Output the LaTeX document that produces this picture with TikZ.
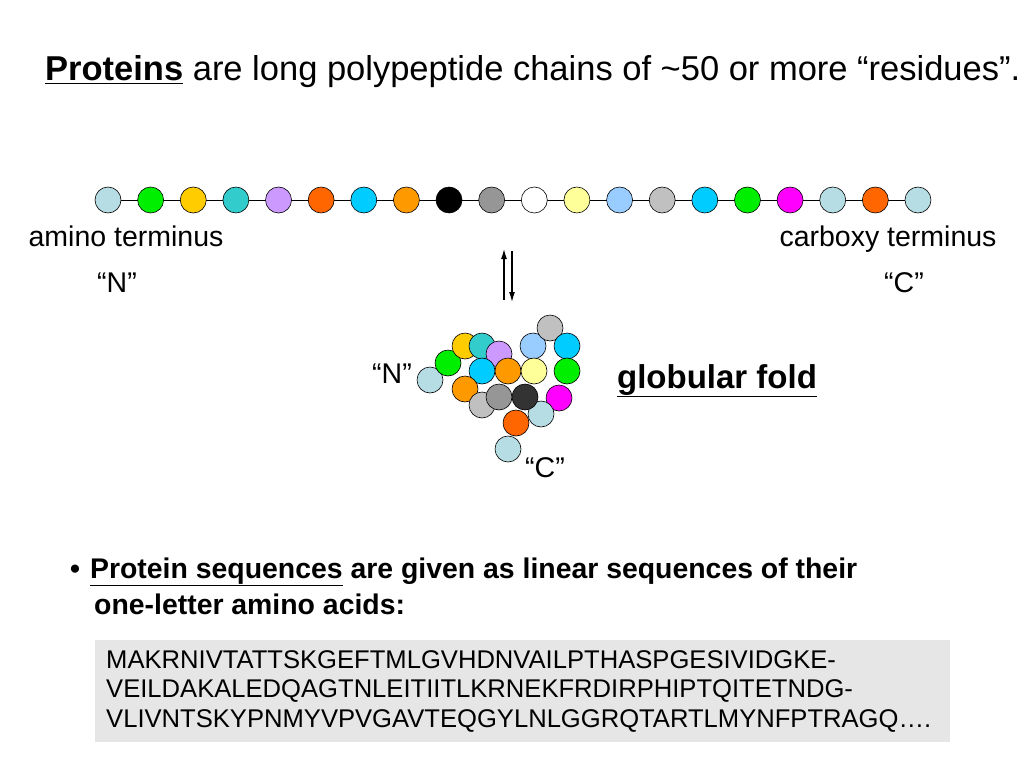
\documentclass[tikz,border=0pt]{standalone}
\usepackage{fontspec}
\usetikzlibrary{arrows.meta}
\setmainfont{Liberation Sans}
\begin{document}
\begin{tikzpicture}[x=1pt,y=-1pt,
 bead/.style={circle,draw=black,line width=0.6pt,minimum size=26pt,inner sep=0pt},
 txt/.style={inner sep=0pt,font=\fontsize{28.5}{32}\selectfont},
 arr/.style={-{Latex[length=10pt,width=6pt]},line width=1.2pt}]
\useasboundingbox (0,0) rectangle (1024,768);
\definecolor{lb}{HTML}{B7DDE4}\definecolor{gr}{HTML}{00EE00}\definecolor{go}{HTML}{FFCC00}
\definecolor{te}{HTML}{33CCCC}\definecolor{la}{HTML}{CC99FF}\definecolor{orr}{HTML}{FF6600}
\definecolor{sk}{HTML}{00CCFF}\definecolor{or}{HTML}{FF9900}\definecolor{gy}{HTML}{969696}
\definecolor{ly}{HTML}{FFFF99}\definecolor{pb}{HTML}{99CCFF}\definecolor{lg}{HTML}{C0C0C0}
\definecolor{ma}{HTML}{FF00FF}\definecolor{dk}{HTML}{333333}\definecolor{bx}{HTML}{E6E6E6}
\node[anchor=base west,inner sep=0pt,font=\fontsize{34.5}{40}\selectfont] (title) at (45,81)
 {\textbf{\underline{Proteins}} are long polypeptide chains of \textasciitilde50 or more “residues”.};
\draw (108,200) -- (918,200);
\foreach \c [count=\i] in {lb,gr,go,te,la,orr,sk,or,black,gy,white,ly,pb,lg,sk,gr,ma,lb,orr,lb}
 \node[bead,fill=\c] (c\i) at ({108+(\i-1)*42.63},200) {};
\node[txt,anchor=base] (am) at (126,246) {amino terminus};
\node[txt,anchor=base] (cb) at (888,246) {carboxy terminus};
\node[txt,anchor=base] (n1) at (117,292) {“N”};
\node[txt,anchor=base] (c1) at (904,292) {“C”};
\coordinate (a1) at (504,300); \coordinate (a2) at (504,249);
\coordinate (b1) at (512,251); \coordinate (b2) at (512,302);
\draw[arr] (a1) -- (a2);
\draw[arr] (b1) -- (b2);
\foreach \c/\x/\y [count=\i] in {lb/430/380,gr/448/363,go/465/346,te/482/346,la/499/354,
 pb/533/346,lg/550/328,sk/567/346,gr/567/371,sk/482/371,or/508/371,ly/534/371,
 or/465/389,lg/482/405,gy/499/397,ma/559/398,lb/541/414,dk/525/397,orr/516/423,lb/508/449}
 \node[bead,fill=\c] (g\i) at (\x,\y) {};
\node[txt,anchor=base] (n2) at (392,383) {“N”};
\node[txt,anchor=base] (c2) at (545,477) {“C”};
\node[anchor=base,inner sep=0pt,font=\fontsize{33}{38}\selectfont\bfseries] (gf) at (717,388) {\underline{globular fold}};
\node[anchor=base west,inner sep=0pt,font=\fontsize{28.4}{32}\selectfont\bfseries] (ps) at (70,578)
 {•\hspace{10pt}\underline{Protein sequences} are given as linear sequences of their};
\node[anchor=base west,inner sep=0pt,font=\fontsize{28.4}{32}\selectfont\bfseries] (ps2) at (94,614) {one-letter amino acids:};
\fill[bx] (95,640) rectangle (950,742);
\node[anchor=north west,inner sep=0pt,align=left,font=\fontsize{25.6}{29.5}\selectfont] (seq) at (106,650)
 {MAKRNIVTATTSKGEFTMLGVHDNVAILPTHASPGESIVIDGKE-\\VEILDAKALEDQAGTNLEITIITLKRNEKFRDIRPHIPTQITETNDG-\\VLIVNTSKYPNMYVPVGAVTEQGYLNLGGRQTARTLMYNFPTRAGQ….};
\end{tikzpicture}
\end{document}
